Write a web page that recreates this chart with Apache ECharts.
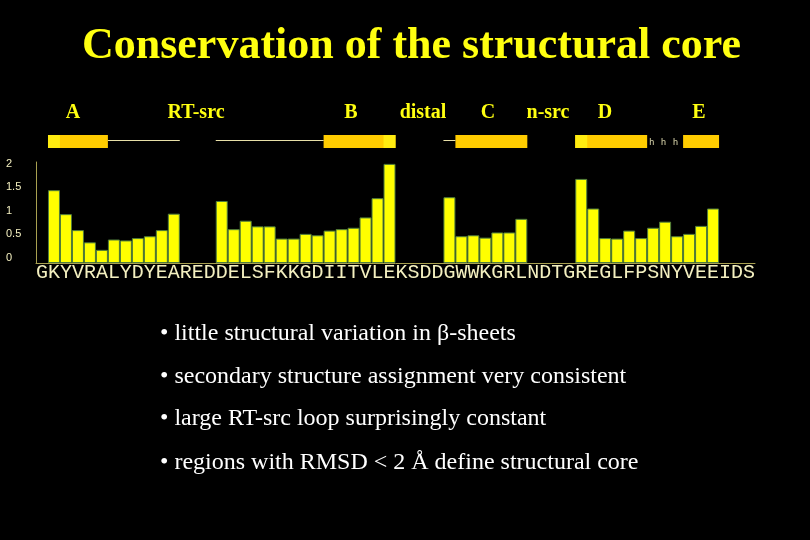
<!DOCTYPE html>
<html>
<head>
<meta charset="utf-8">
<script src="https://cdn.jsdelivr.net/npm/echarts@6/dist/echarts.min.js"></script>
<style>html,body{margin:0;padding:0;background:#000;}#c{width:810px;height:540px;}</style>
</head>
<body>
<div id="c"></div>
<script>
// Sequence (one residue per category)
const residues = "GKYVRALYDYEAREDDELSFKKGDIITVLEKSDDGWWKGRLNDTGREGLFPSNYVEEIDS".split("");
// RMSD per residue (null = no bar)
const rmsd = [
  null, 1.55, 1.04, 0.70, 0.44, 0.28, 0.50, 0.48, 0.53, 0.57, 0.70, 1.05,
  null, null, null,
  1.32, 0.72, 0.90, 0.78, 0.78, 0.52, 0.52, 0.62, 0.59, 0.69, 0.72, 0.75, 0.97, 1.38, 2.11,
  null, null, null, null,
  1.40, 0.57, 0.59, 0.54, 0.65, 0.65, 0.94,
  null, null, null, null,
  1.79, 1.16, 0.53, 0.52, 0.69, 0.53, 0.75, 0.88, 0.57, 0.62, 0.79, 1.16,
  null, null, null
];
// y axis ticks
const yTicks = [0, 0.5, 1, 1.5, 2];
// Secondary structure elements [first residue index, last residue index]
const strandSegs = [[1, 5], [24, 29], [35, 40], [45, 50], [54, 56]];
const strandEdges = [[1, 1], [29, 29], [45, 45]];
const loopSegs = [[6, 11], [15, 23], [34, 34]];
const helixCells = [[51, 51], [52, 52], [53, 53]];
// Region labels above the sequence
const regionNames = ["A", "RT-src", "B", "distal", "C", "n-src", "D", "E"];
const regionX = [73, 196, 351, 423, 488, 548, 605, 699];
// Title and bullets
const titleText = "Conservation of the structural core";
const bullets = [
  "\u2022 little structural variation in \u03B2-sheets",
  "\u2022 secondary structure assignment very consistent",
  "\u2022 large RT-src loop surprisingly constant",
  "\u2022 regions with RMSD < 2 \u00C5 define structural core"
];

const ssData = []
  .concat(strandSegs.map(s => [s[0], s[1], 0]))
  .concat(strandEdges.map(s => [s[0], s[1], 1]))
  .concat(loopSegs.map(s => [s[0], s[1], 2]))
  .concat(helixCells.map(s => [s[0], s[1], 3]));

function renderSS(params, api) {
  const s = api.value(0), e = api.value(1), k = api.value(2);
  const w = api.size([1, 0])[0];
  const pTop = api.coord([s, 1]);
  const pBot = api.coord([e, 0]);
  const x0 = pTop[0] - w / 2, x1 = pBot[0] + w / 2;
  if (k === 0 || k === 1) {
    return {type: 'rect', shape: {x: x0, y: pTop[1], width: x1 - x0, height: pBot[1] - pTop[1]},
      style: {fill: k === 0 ? '#ffcc00' : '#ffec10'}};
  }
  if (k === 2) {
    const y = Math.round(api.coord([s, 0.65])[1]) + 0.5;
    return {type: 'line', shape: {x1: x0, y1: y, x2: x1, y2: y}, style: {stroke: '#e8e0a8', lineWidth: 1}};
  }
  const c = api.coord([s, 0.45]);
  return {type: 'text', style: {text: 'h', x: c[0] - 1.5, y: c[1], align: 'center', verticalAlign: 'middle',
    fill: '#e0dcb0', font: '9px "Liberation Sans"'}};
}

const graphics = [
  {type: 'text', left: 'center', style: {text: titleText, x: 0, y: 0}, position: [0, 0], silent: true}
];
const gList = [];
gList.push({type: 'text', x: 411.5, y: 46.5, style: {text: titleText, align: 'center', verticalAlign: 'middle',
  fill: '#ffff10', font: 'bold 44px "Liberation Serif"'}});
regionNames.forEach((n, i) => gList.push({type: 'text', x: regionX[i], y: 112.5, style: {text: n, align: 'center',
  verticalAlign: 'middle', fill: '#ffff10', font: 'bold 20px "Liberation Serif"'}}));
const bulletY = [334, 377, 419, 463];
bullets.forEach((b, i) => gList.push({type: 'text', x: 160, y: bulletY[i], style: {text: b, align: 'left',
  verticalAlign: 'middle', fill: '#ffffff', font: '24px "Liberation Serif"'}}));

const chart = echarts.init(document.getElementById('c'), null, {renderer: 'canvas'});
chart.setOption({
  backgroundColor: '#000000',
  animation: false,
  grid: [
    {left: 36, right: 55, top: 162, bottom: 277},
    {left: 36, right: 55, top: 135, height: 13}
  ],
  xAxis: [
    {type: 'category', gridIndex: 0, data: residues, boundaryGap: true,
      axisLine: {show: true, lineStyle: {color: '#a8a050', width: 1}},
      axisTick: {show: false},
      axisLabel: {interval: 0, margin: 0, color: '#f4f0c0', fontSize: 20, fontFamily: 'Liberation Mono', verticalAlign: 'top'}},
    {type: 'category', gridIndex: 1, data: residues, boundaryGap: true, show: false}
  ],
  yAxis: [
    {type: 'value', gridIndex: 0, min: 0, max: 2.15, interval: 0.5,
      axisLine: {show: true, lineStyle: {color: '#a8a050', width: 1}},
      axisTick: {show: false}, splitLine: {show: false},
      axisLabel: {showMaxLabel: false, align: 'left', margin: 30, verticalAlign: 'bottom', color: '#f4f0c0',
        fontSize: 11, fontFamily: 'Liberation Sans',
        formatter: v => (yTicks.indexOf(v) >= 0 ? String(v) : '')}},
    {type: 'value', gridIndex: 1, min: 0, max: 1, show: false}
  ],
  series: [
    {type: 'bar', xAxisIndex: 0, yAxisIndex: 0, data: rmsd, barCategoryGap: '0%',
      itemStyle: {color: '#ffff00', borderColor: '#4f7d3c', borderWidth: 1}},
    {type: 'custom', xAxisIndex: 1, yAxisIndex: 1, data: ssData, renderItem: renderSS, clip: false,
      encode: {x: [0, 1], y: 2}}
  ],
  graphic: gList
});
</script>
</body>
</html>
